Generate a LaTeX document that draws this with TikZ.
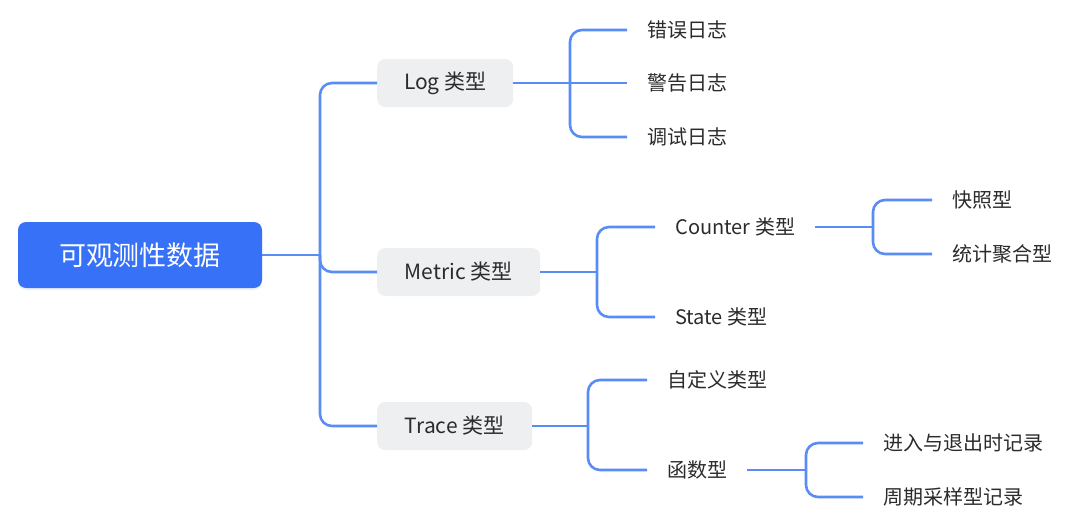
\documentclass[tikz,border=0pt]{standalone}
\usepackage{fontspec}
\setmainfont{Noto Sans CJK SC}
\usetikzlibrary{positioning,shadows}
\definecolor{rootblue}{HTML}{3771F8}
\definecolor{linkblue}{HTML}{5A8CF5}
\definecolor{softgray}{HTML}{EEEFF1}
\definecolor{inkgray}{HTML}{2B2B2B}

\begin{document}
\begin{tikzpicture}[x=1pt,y=-1pt]
\tikzstyle{root}=[rounded corners=8pt,fill=rootblue,text=white,minimum width=244pt,minimum height=66pt,font=\fontsize{27}{32}\selectfont,drop shadow={shadow xshift=0pt,shadow yshift=-2pt,fill=rootblue!18}]
\tikzstyle{box}=[rounded corners=8pt,fill=softgray,text=inkgray,minimum height=48pt,inner xsep=22pt,anchor=west,font=\fontsize{21}{25}\selectfont]
\tikzstyle{item}=[text=inkgray,inner xsep=20pt,anchor=west,font=\fontsize{20}{24}\selectfont]
\tikzstyle{link}=[draw=linkblue,line width=2.6pt,rounded corners=12pt]
\useasboundingbox (0,0) rectangle (1080,530);
\node[root] (root) at (140,255) {可观测性数据};
\node[box,minimum width=136pt] (log) at (377,83) {Log 类型};
\node[box,minimum width=163pt] (metric) at (377,272) {Metric 类型};
\node[box,minimum width=155pt] (trace) at (377,426) {Trace 类型};
\node[item] (err) at (627,30) {错误日志};
\node[item] (warn) at (627,83) {警告日志};
\node[item] (dbg) at (627,137) {调试日志};
\node[item,minimum width=160pt] (counter) at (655,227) {Counter 类型};
\node[item] (state) at (655,317) {State 类型};
\node[item] (snap) at (932,200) {快照型};
\node[item] (stat) at (932,254) {统计聚合型};
\node[item] (custom) at (647,380) {自定义类型};
\node[item] (func) at (647,470) {函数型};
\node[item] (enter) at (863,443) {进入与退出时记录};
\node[item] (sample) at (863,497) {周期采样型记录};
\coordinate (j0) at (320,255);
\coordinate (j1) at (570,83);
\coordinate (j2) at (597,272);
\coordinate (j3) at (873,227);
\coordinate (j4) at (588,426);
\coordinate (j5) at (806,470);
\draw[link] (root.east)--(j0); \draw[link] (j0)|-(log.west); \draw[link] (j0)|-(metric.west); \draw[link] (j0)|-(trace.west);
\draw[link] (log.east)--(j1); \draw[link] (j1)|-(err.west); \draw[link] (j1)--(warn.west); \draw[link] (j1)|-(dbg.west);
\draw[link] (metric.east)--(j2); \draw[link] (j2)|-(counter.west); \draw[link] (j2)|-(state.west);
\draw[link] (counter.east)--(j3); \draw[link] (j3)|-(snap.west); \draw[link] (j3)|-(stat.west);
\draw[link] (trace.east)--(j4); \draw[link] (j4)|-(custom.west); \draw[link] (j4)|-(func.west);
\draw[link] (func.east)--(j5); \draw[link] (j5)|-(enter.west); \draw[link] (j5)|-(sample.west);
\end{tikzpicture}
\end{document}
